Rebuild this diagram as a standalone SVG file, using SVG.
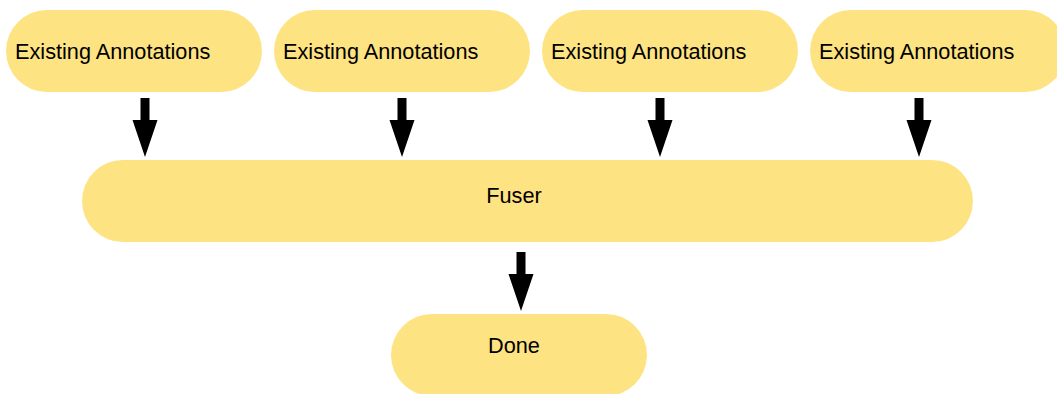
<svg xmlns="http://www.w3.org/2000/svg" width="1057" height="394" viewBox="0 0 1057 394">
  <style>
    .node { fill: #fee383; }
    .label { font-family: "Liberation Sans", Arial, sans-serif; font-size: 21.7px; fill: #000; }
    .mid { text-anchor: middle; }
    .arrow { fill: #000; }
  </style>
  <defs>
    <!-- block arrow pointing down, tip at (0,0) -->
    <path id="downArrow" d="M -4.5 -59 L 4.5 -59 L 4.5 -37 L 12.5 -37 L 0 0 L -12.5 -37 L -4.5 -37 Z"/>
  </defs>
  <rect width="1057" height="394" fill="#fff"/>

  <g id="annotations-1">
    <rect class="node" x="6" y="10" width="256" height="82" rx="41" ry="41"/>
    <text class="label" x="15" y="59">Existing Annotations</text>
  </g>
  <g id="annotations-2">
    <rect class="node" x="274" y="10" width="256" height="82" rx="41" ry="41"/>
    <text class="label" x="283" y="59">Existing Annotations</text>
  </g>
  <g id="annotations-3">
    <rect class="node" x="542" y="10" width="256" height="82" rx="41" ry="41"/>
    <text class="label" x="551" y="59">Existing Annotations</text>
  </g>
  <g id="annotations-4">
    <rect class="node" x="810" y="10" width="256" height="82" rx="41" ry="41"/>
    <text class="label" x="819" y="59">Existing Annotations</text>
  </g>

  <g id="fuser">
    <rect class="node" x="82" y="160" width="891" height="82" rx="41" ry="41"/>
    <text class="label mid" x="514" y="203">Fuser</text>
  </g>

  <g id="done">
    <rect class="node" x="391" y="314" width="256" height="82" rx="41" ry="41"/>
    <text class="label mid" x="514" y="353">Done</text>
  </g>

  <g id="connectors" class="arrow">
    <use href="#downArrow" x="145" y="157"/>
    <use href="#downArrow" x="402" y="157"/>
    <use href="#downArrow" x="660" y="157"/>
    <use href="#downArrow" x="919" y="157"/>
    <use href="#downArrow" x="521" y="311"/>
  </g>
</svg>
